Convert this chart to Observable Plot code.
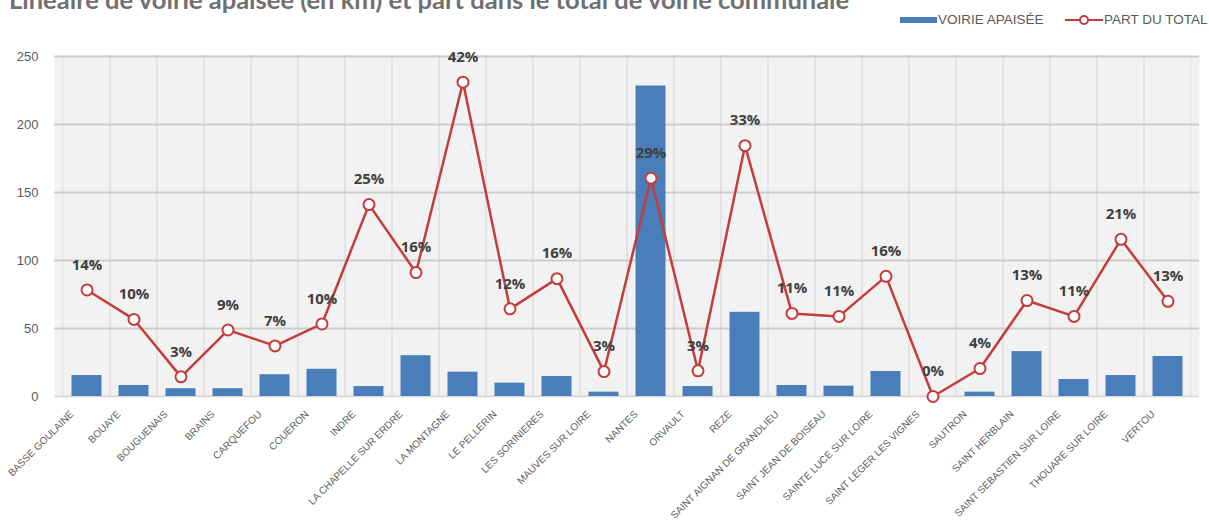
<!DOCTYPE html>
<html>
<head>
<meta charset="utf-8">
<script src="https://cdn.jsdelivr.net/npm/d3@7"></script>
<script src="https://cdn.jsdelivr.net/npm/@observablehq/plot@0.6"></script>
<style>
  html, body { margin: 0; padding: 0; background: #fff; }
  #wrap { position: relative; width: 1209px; height: 523px; overflow: hidden; font-family: "Liberation Sans", Arial, sans-serif; }
  #title { position: absolute; left: 9px; top: -13px; font-family: Lato, "Open Sans", sans-serif; font-weight: 700; font-size: 25.5px; line-height: 25.5px; color: #707070; white-space: nowrap; }
  .lg { position: absolute; font-size: 13.5px; line-height: 14px; color: #595959; white-space: nowrap; }
  #sw { position: absolute; left: 900px; top: 17px; width: 37px; height: 6px; background: #4a7ebb; }
  #lgline { position: absolute; left: 1065px; top: 14px; }
  #chart { position: absolute; left: 0; top: 0; }
</style>
</head>
<body>
<div id="wrap">
  <div id="chart"></div>
  <div id="title">Linéaire de voirie apaisée (en km) et part dans le total de voirie communale</div>
  <div id="sw"></div>
  <div class="lg" style="left:938px; top:13px;">VOIRIE APAISÉE</div>
  <svg id="lgline" width="38" height="12"><line x1="0" y1="6" x2="38" y2="6" stroke="#c43c3c" stroke-width="2"/><circle cx="19" cy="6" r="4" fill="#fff" stroke="#c43c3c" stroke-width="2"/></svg>
  <div class="lg" style="left:1104px; top:13px;">PART DU TOTAL</div>
</div>
<script>
const communes = [
  "BASSE GOULAINE", "BOUAYE", "BOUGUENAIS", "BRAINS", "CARQUEFOU", "COUERON", "INDRE",
  "LA CHAPELLE SUR ERDRE", "LA MONTAGNE", "LE PELLERIN", "LES SORINIERES", "MAUVES SUR LOIRE",
  "NANTES", "ORVAULT", "REZE", "SAINT AIGNAN DE GRANDLIEU", "SAINT JEAN DE BOISEAU",
  "SAINTE LUCE SUR LOIRE", "SAINT LEGER LES VIGNES", "SAUTRON", "SAINT HERBLAIN",
  "SAINT SEBASTIEN SUR LOIRE", "THOUARE SUR LOIRE", "VERTOU"
];
// Linéaire de voirie apaisée (km)
const voirieApaisee = [15.4, 8.1, 5.7, 5.7, 16.0, 20.0, 7.3, 30.0, 17.9, 9.8, 14.7, 3.2,
  228.3, 7.3, 61.9, 8.1, 7.6, 18.4, 0, 3.2, 33.0, 12.5, 15.4, 29.4];
// Part du total de voirie communale (%)
const partDuTotal = [14.1, 10.2, 2.6, 8.8, 6.7, 9.6, 25.4, 16.4, 41.6, 11.6, 15.6, 3.3,
  28.9, 3.4, 33.2, 11.0, 10.6, 15.9, 0.0, 3.7, 12.7, 10.6, 20.8, 12.6];
// secondary (hidden) axis maximum for the percentage series
const pctAxisMax = 45;
const yTicks = [0, 50, 100, 150, 200, 250];

const data = communes.map((c, i) => ({commune: c, km: voirieApaisee[i], pct: partDuTotal[i]}));
const k = 250 / pctAxisMax;

const chart = Plot.plot({
  width: 1209,
  height: 523,
  marginTop: 56,
  marginBottom: 127,
  marginLeft: 54,
  marginRight: 10,
  style: {background: "transparent", fontFamily: "'Liberation Sans', Arial, sans-serif", color: "#595959"},
  x: {domain: communes, padding: 0, label: null},
  y: {domain: [0, 250], label: null},
  marks: [
    Plot.frame({fill: "#f2f2f2", stroke: null}),
    Plot.cell(communes, {x: d => d, fill: null, stroke: "#dedede", strokeWidth: 1}),
    Plot.gridY(yTicks.filter(t => t > 0), {stroke: "#cccccc", strokeOpacity: 1, strokeWidth: 2}),
    Plot.ruleY([0], {stroke: "#d6d6d6", strokeWidth: 1.5}),
    Plot.barY(data, {x: "commune", y: "km", fill: "#4a7ebb", insetLeft: 8.5, insetRight: 8.5}),
    Plot.line(data, {x: "commune", y: d => d.pct * k, stroke: "#c43c3c", strokeWidth: 2.5}),
    Plot.dot(data, {x: "commune", y: d => d.pct * k, r: 5.5, fill: "#fff", stroke: "#c43c3c", strokeWidth: 2}),
    Plot.text(data, {x: "commune", y: d => d.pct * k, text: d => Math.round(d.pct) + "%", dy: -25,
      fontWeight: "bold", fontSize: 15, fill: "#404040", fontFamily: "'Open Sans', sans-serif"}),
    Plot.axisY({ticks: yTicks, tickSize: 0, tickPadding: 16, fontSize: 13, fill: "#595959"}),
    Plot.axisX({tickRotate: -45, tickSize: 0, tickPadding: 8, dx: -15, dy: 8, fontSize: 10, fill: "#606060"})
  ]
});
document.getElementById("chart").appendChild(chart);
</script>
</body>
</html>
